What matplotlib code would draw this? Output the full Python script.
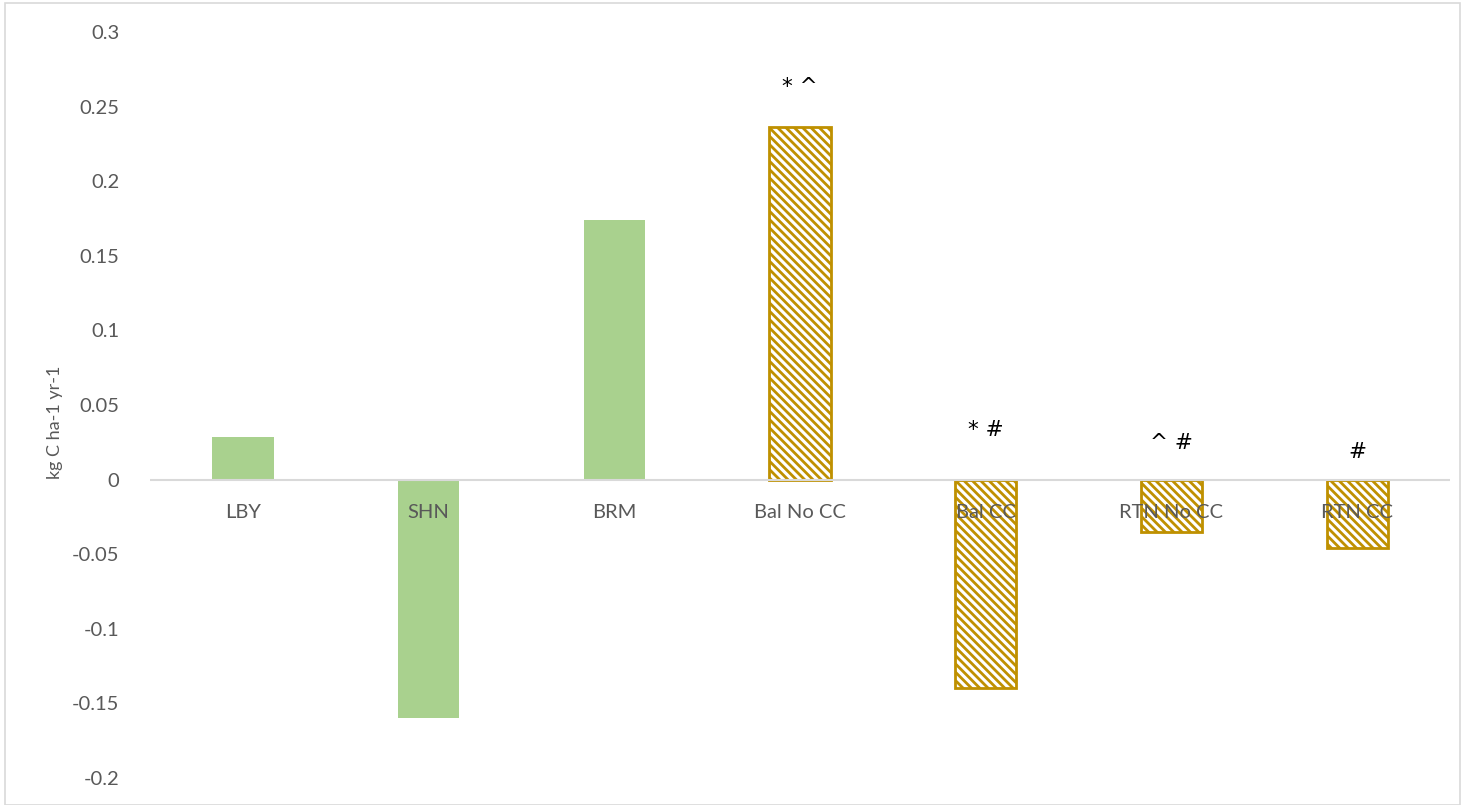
import matplotlib
matplotlib.use("Agg")
import matplotlib.pyplot as plt
from matplotlib.patches import Rectangle

categories = ["LBY", "SHN", "BRM", "Bal No CC", "Bal CC", "RTN No CC", "RTN CC"]
values = [0.0288, -0.160, 0.174, 0.2366, -0.140, -0.035, -0.046]
hatched = [False, False, False, True, True, True, True]
marks = ["", "", "", "* ^", "* #", "^ #", "#"]
mark_y = [0, 0, 0, 0.263, 0.0335, 0.0248, 0.0188]
yticks = [-0.2, -0.15, -0.1, -0.05, 0, 0.05, 0.1, 0.15, 0.2, 0.25, 0.3]
ytick_labels = ["-0.2", "-0.15", "-0.1", "-0.05", "0", "0.05", "0.1", "0.15", "0.2", "0.25", "0.3"]

plt.rcParams["font.family"] = ["Lato", "DejaVu Sans"]
plt.rcParams["hatch.linewidth"] = 2.0
plt.rcParams["hatch.color"] = "#BF9000"

fig = plt.figure(figsize=(14.63, 8.05), dpi=100)
ax = fig.add_axes([150 / 1463, 27 / 805, 1300 / 1463, 746 / 805])

x = list(range(len(categories)))
for xi, v, h in zip(x, values, hatched):
    if h:
        ax.bar(xi, v, width=0.33, facecolor="white", edgecolor="#BF9000",
               linewidth=2, hatch="\\" * 4, zorder=2)
    else:
        ax.bar(xi, v, width=0.33, color="#A9D18E", zorder=2)

for xi, m, my in zip(x, marks, mark_y):
    if m:
        ax.text(xi, my, m, ha="center", va="center", fontsize=15.5,
                color="black", family=["DejaVu Sans"], fontweight="medium",
                zorder=4)

ax.axhline(0, color="#D9D9D9", linewidth=1.5, zorder=3)
ax.set_xlim(-0.5, len(categories) - 0.5)
ax.set_ylim(-0.2, 0.3)
ax.set_yticks(yticks)
ax.set_yticklabels(ytick_labels, fontsize=14.5, color="#595959")
ax.tick_params(axis="y", length=0, pad=22)
ax.set_xticks([])
for xi, c in zip(x, categories):
    ax.text(xi, -0.022, c, ha="center", va="center", fontsize=14.5,
            color="#595959", zorder=5)
for s in ax.spines.values():
    s.set_visible(False)

ax.set_ylabel("kg C ha-1 yr-1", fontsize=13, color="#595959",
              va="center", ha="center")
ax.yaxis.set_label_coords(-0.073, 0.477)

fig.patches.append(Rectangle((5 / 1463, 0), 1455 / 1463, 802 / 805,
                             transform=fig.transFigure, fill=False,
                             edgecolor="#D9D9D9", linewidth=1.2))

fig.savefig("out.png", dpi=100)
